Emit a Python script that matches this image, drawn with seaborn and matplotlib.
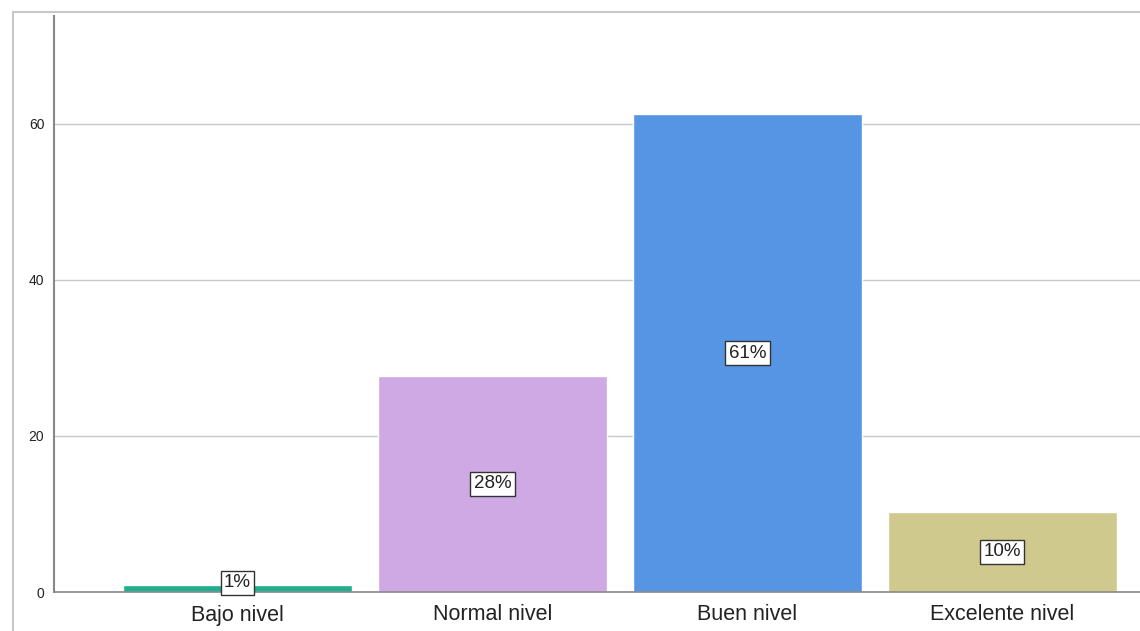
import pandas as pd
import matplotlib.pyplot as plt
import seaborn as sns
from matplotlib.patches import Rectangle

# data
categories = ["Bajo nivel", "Normal nivel", "Buen nivel", "Excelente nivel"]
values = [0.9, 27.7, 61.2, 10.3]
pct_labels = ["1%", "28%", "61%", "10%"]
colors = ["#1FAE8E", "#CEA9E3", "#5595E4", "#CFC98D"]

df = pd.DataFrame({"nivel": categories, "valor": values})

sns.set_theme(style="white")
plt.rcParams["font.family"] = ["Liberation Sans", "DejaVu Sans"]

fig = plt.figure(figsize=(11.4, 6.31), dpi=100)
ax = fig.add_axes([54 / 1140, 39 / 631, 1 - 54 / 1140, 576 / 631])

# outer frame
fig.patches.append(Rectangle((13 / 1140, -0.1), 1.2, 1 - 12 / 631 + 0.1,
                             transform=fig.transFigure, fill=False,
                             edgecolor="#C8C8C8", linewidth=1.5))

sns.barplot(data=df, x="nivel", y="valor", hue="nivel", palette=colors,
            width=0.9, legend=False, ax=ax, saturation=1, zorder=2)

for i, (v, lab) in enumerate(zip(values, pct_labels)):
    ax.text(i, max(v / 2, 1.2), lab, ha="center", va="center", fontsize=13.5,
            color="#222222", zorder=4,
            bbox=dict(boxstyle="square,pad=0.18", facecolor="white",
                      edgecolor="#333333", linewidth=1))

ax.set_ylim(0, 73.8)
ax.set_xlim(-0.72, 3.54)
ax.set_yticks([0, 20, 40, 60])
ax.yaxis.grid(True, color="#C8C8C8", linewidth=1, zorder=0)
ax.set_axisbelow(True)
ax.set_xlabel("")
ax.set_ylabel("")
ax.tick_params(axis="y", labelsize=10, length=0, pad=7, labelcolor="#222222")
ax.tick_params(axis="x", labelsize=15.5, length=0, pad=9, labelcolor="#222222")

for s in ["top", "right"]:
    ax.spines[s].set_visible(False)
ax.spines["left"].set_color("#888888")
ax.spines["left"].set_linewidth(1.5)
ax.spines["bottom"].set_color("#888888")
ax.spines["bottom"].set_linewidth(1.2)

fig.savefig("out.png", dpi=100)
